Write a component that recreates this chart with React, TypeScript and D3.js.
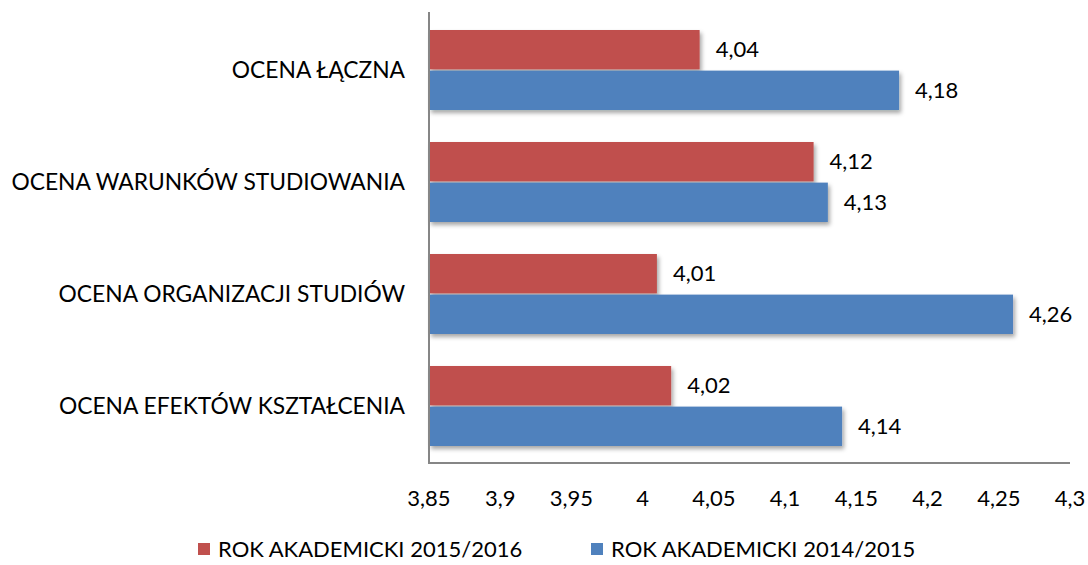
import React from 'react';
import * as d3 from 'd3';

const categories = [
  'OCENA ŁĄCZNA',
  'OCENA WARUNKÓW STUDIOWANIA',
  'OCENA ORGANIZACJI STUDIÓW',
  'OCENA EFEKTÓW KSZTAŁCENIA',
];
const values2016 = [4.04, 4.12, 4.01, 4.02];
const values2015 = [4.18, 4.13, 4.26, 4.14];
const seriesNames = ['ROK AKADEMICKI 2015/2016', 'ROK AKADEMICKI 2014/2015'];
const seriesColors = ['#C0504D', '#4F81BD'];

const width = 1088;
const height = 565;
const font = 'Lato, "Open Sans", sans-serif';

const locale = d3.formatLocale({ decimal: ',', thousands: ' ', grouping: [3], currency: ['', ''] });
const fmt = (v: number) => locale.format('~g')(+v.toFixed(2));

export default function App() {
  const x = d3.scaleLinear().domain([3.85, 4.3]).range([429, 1070]);
  const y = d3.scaleBand<string>()
    .domain(categories)
    .range([14, 462])
    .paddingInner(0.2857)
    .paddingOuter(0.1429);
  const inner = d3.scaleBand<string>()
    .domain(['a', 'b'])
    .range([0, y.bandwidth()])
    .paddingInner(0.03);
  const series = [values2016, values2015];
  const keys = ['a', 'b'];

  return (
    <svg width={width} height={height}
      style={{ position: 'absolute', left: 0, top: 0, background: '#fff' }}
      fontFamily={font}>
      <defs>
        <filter id="shadow" x="-5%" y="-20%" width="115%" height="160%">
          <feDropShadow dx="2" dy="3" stdDeviation="2" floodColor="#000" floodOpacity="0.35" />
        </filter>
      </defs>

      {categories.map((c, i) => (
        <g key={c}>
          {series.map((vals, s) => {
            const y0 = (y(c) as number) + (inner(keys[s]) as number);
            const bh = inner.bandwidth();
            return (
              <g key={s}>
                <rect x={x(3.85)} y={y0} width={x(vals[i]) - x(3.85)} height={bh}
                  fill={seriesColors[s]} filter="url(#shadow)" />
                <text x={x(vals[i]) + 16} y={y0 + bh / 2} dy="0.35em"
                  fontSize={22} fill="#000">{fmt(vals[i])}</text>
              </g>
            );
          })}
          <text x={405} y={(y(c) as number) + y.bandwidth() / 2} dy="0.35em"
            textAnchor="end" fontSize={22.8} fill="#000">{c}</text>
        </g>
      ))}

      <line x1={x(3.85)} x2={x(3.85)} y1={12} y2={463} stroke="#868686" strokeWidth={2} />
      <line x1={x(3.85) - 1} x2={x(4.3)} y1={463} y2={463} stroke="#868686" strokeWidth={2} />

      {x.ticks(10).map(t => (
        <text key={t} x={x(t)} y={498} dy="0.35em" textAnchor="middle"
          fontSize={22} fill="#000">{fmt(t)}</text>
      ))}

      {seriesNames.map((n, i) => {
        const lx = i === 0 ? 198 : 591;
        return (
          <g key={n}>
            <rect x={lx} y={543} width={12} height={12} fill={seriesColors[i]} />
            <text x={lx + 20} y={549} dy="0.35em" fontSize={22} fill="#000">{n}</text>
          </g>
        );
      })}
    </svg>
  );
}
